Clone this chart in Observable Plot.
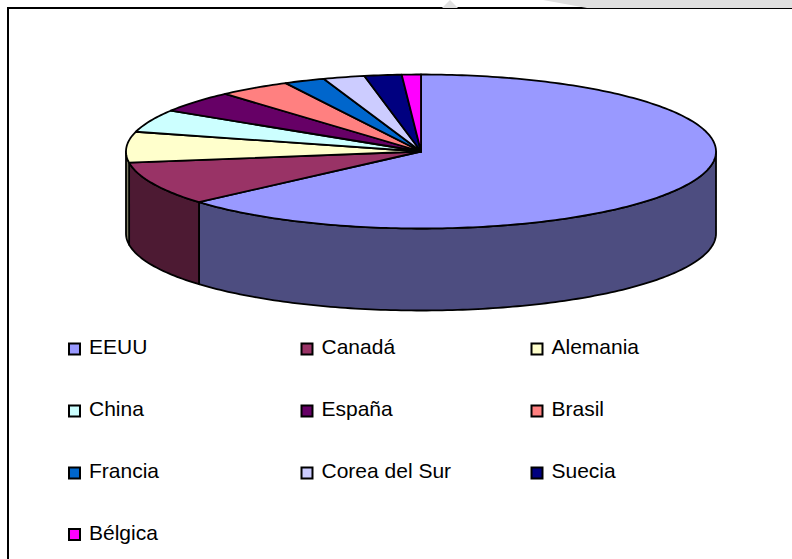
<!DOCTYPE html>
<html>
<head>
<meta charset="utf-8">
<script src="https://cdn.jsdelivr.net/npm/d3@7"></script>
<script src="https://cdn.jsdelivr.net/npm/@observablehq/plot@0.6"></script>
<style>
html,body{margin:0;padding:0;background:#fff;overflow:hidden}
#wrap{position:relative;width:792px;height:559px}
#wrap svg{display:block;position:absolute;left:0;top:0}
.wm{position:absolute;left:0;top:0;width:792px;height:8px;background:#e0e0e0}
#wm1{clip-path:polygon(543px 0,587px 8px,792px 8px,792px 0)}
#wm2{clip-path:polygon(450px 0,442px 8px,458px 8px)}
</style>
</head>
<body>
<div id="wrap"></div>
<script>
// Data: share per country (clockwise from 12 o'clock)
const countries = ["EEUU","Canadá","Alemania","China","España","Brasil","Francia","Corea del Sur","Suecia","Bélgica"];
const shares = [64.1,9.2,6.5,4.8,4.6,4.0,2.25,2.3,2.05,1.05];
const colors = ["#9999ff","#993366","#ffffcc","#ccffff","#660066","#ff8080","#0066cc","#ccccff","#000080","#ff00ff"];
const wallColors = ["#4d4d80","#4d1a33","#808066","#668080","#330033","#804040","#003366","#666680","#000040","#800080"];

// Pie geometry
const W = 792, H = 559;
const cx = 420.5, cy = 151, rx = 295, ry = 77, depth = 82;
// Legend layout
const legendX = [74, 306.5, 536.5], legendY = [348.5, 410.5, 472.5, 534], labelGap = 14.5;

const total = d3.sum(shares);
let cum = 0;
const spans = shares.map((v, i) => {
  const a0 = cum / total * 360; cum += v;
  return {i, a0, a1: cum / total * 360};
});
const px = a => cx + rx * Math.sin(a * Math.PI / 180);
const py = a => cy - ry * Math.cos(a * Math.PI / 180);
const arc = (a0, a1) => {
  const n = Math.max(1, Math.ceil(Math.abs(a1 - a0)));
  return d3.range(n + 1).map(k => a0 + (a1 - a0) * k / n);
};

const tops = [], walls = [];
for (const {i, a0, a1} of spans) {
  const id = countries[i];
  const ring = [[cx, cy], ...arc(a0, a1).map(a => [px(a), py(a)]), [cx, cy]];
  ring.forEach(([x, y]) => tops.push({id, x, y, color: colors[i]}));
  const b0 = Math.max(a0, 90), b1 = Math.min(a1, 270);
  if (b1 > b0) {
    const as = arc(b0, b1);
    const w = [...as.map(a => [px(a), py(a)]), ...as.slice().reverse().map(a => [px(a), py(a) + depth])];
    w.push(w[0]);
    w.forEach(([x, y]) => walls.push({id, x, y, color: wallColors[i]}));
  }
}

const legend = countries.map((name, i) => ({
  name, color: colors[i],
  x: legendX[i % 3], y: legendY[Math.floor(i / 3)]
}));

const plot = Plot.plot({
  width: W, height: H,
  margin: 0,
  x: {domain: [0, W], range: [0, W], axis: null},
  y: {domain: [0, H], range: [0, H], axis: null},
  style: {background: "transparent"},
  marks: [
    Plot.ruleY([7.5], {x1: 7, x2: W, stroke: "#000", strokeWidth: 2}),
    Plot.ruleX([7.5], {y1: 7, y2: H, stroke: "#000", strokeWidth: 2}),
    Plot.line(walls, {x: "x", y: "y", z: "id", fill: "color", stroke: "#000", strokeWidth: 1.8, strokeLinejoin: "round"}),
    Plot.line(tops, {x: "x", y: "y", z: "id", fill: "color", stroke: "#000", strokeWidth: 1.8, strokeLinejoin: "round"}),
    Plot.dot(legend, {x: "x", y: "y", symbol: "square", r: 6.2, fill: "color", stroke: "#000", strokeWidth: 2}),
    Plot.text(legend, {
      x: d => d.x + labelGap, y: "y", text: "name", textAnchor: "start", dy: -1.5,
      fontFamily: "Liberation Sans", fontSize: 21, fill: "#000"
    })
  ]
});
const wrap = document.getElementById("wrap");
wrap.appendChild(plot);
for (const id of ["wm1", "wm2"]) {
  const d = document.createElement("div");
  d.id = id; d.className = "wm";
  wrap.appendChild(d);
}
</script>
</body>
</html>
